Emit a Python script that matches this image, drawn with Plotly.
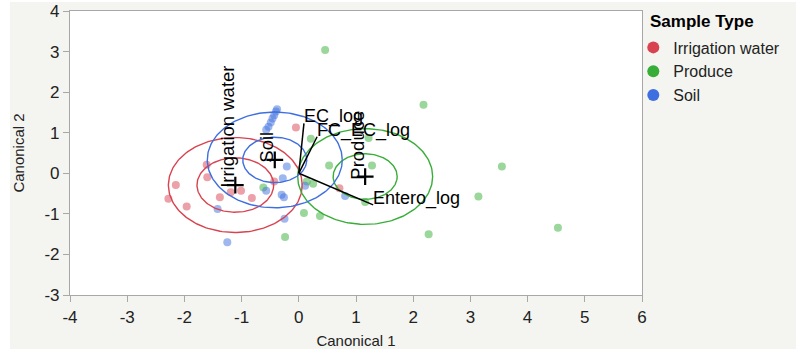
import numpy as np
import plotly.graph_objects as go

# ---- data ----
groups = ["Irrigation water", "Produce", "Soil"]
irr_x = [-0.05, -2.15, -2.28, -1.96, -1.60, -1.61, -1.38, -1.19, -1.01, -0.82, -0.43, 0.71]
irr_y = [1.13, -0.29, -0.63, -0.82, -0.10, 0.21, -0.59, -0.47, -0.43, -0.61, -0.20, -0.37]
prod_x = [0.46, 0.21, 0.53, 1.22, 1.28, 0.14, 0.25, 0.09, 0.37, -0.24, -0.62, 2.18, 3.55, 3.14, 2.27, 4.53, 1.16]
prod_y = [3.04, 0.85, 0.19, 0.87, 0.19, -0.20, -0.26, -0.98, -1.05, -1.57, -0.35, 1.69, 0.17, -0.57, -1.50, -1.34, -0.71]
soil_x = [-0.38, -0.40, -0.43, -0.46, -0.49, -0.53, -0.57, -0.21, -0.28, -0.57, -0.30, -0.26, -1.42, -0.25, -1.25, 0.11, 0.81]
soil_y = [1.58, 1.52, 1.43, 1.35, 1.25, 1.15, 1.07, 0.17, -0.12, -0.43, -0.53, -0.59, -0.88, -1.12, -1.70, -0.31, -0.56]

center_x = [-1.11, 1.16, -0.42]
center_y = [-0.29, -0.08, 0.33]
inner_r = [0.67, 0.56, 0.56]
outer_r = [1.17, 1.18, 1.18]

ray_names = ["EC_log", "FC_EC_log", "Entero_log"]
ray_x = [0.09, 0.32, 1.30]
ray_y = [1.23, 0.90, -0.78]

x_ticks = [-4, -3, -2, -1, 0, 1, 2, 3, 4, 5, 6]
x_labels = ["-4", "-3", "-2", "-1", "0", "1", "2", "3", "4", "5", "6"]
y_ticks = [-3, -2, -1, 0, 1, 2, 3, 4]
y_labels = ["-3", "-2", "-1", "0", "1", "2", "3", "4"]
legend_title = "Sample Type"

# ---- styles ----
line_colors = ["#d8434f", "#38ad38", "#3e6fe0"]
point_colors = ["rgba(216,67,79,0.5)", "rgba(56,173,56,0.5)", "rgba(62,111,224,0.5)"]
FONT = "Liberation Sans, Arial, sans-serif"
BG = "#f4f4f0"
PW, PH = 571.7, 284.3

fig = go.Figure()
pts = [(irr_x, irr_y), (prod_x, prod_y), (soil_x, soil_y)]
for i, (px, py) in enumerate(pts):
    fig.add_trace(go.Scatter(x=px, y=py, mode="markers", showlegend=False,
                             marker=dict(size=8, color=point_colors[i]), hoverinfo="skip"))

t = np.linspace(0, 2 * np.pi, 200)
for i in range(3):
    for r in (inner_r[i], outer_r[i]):
        fig.add_trace(go.Scatter(x=center_x[i] + r * np.cos(t), y=center_y[i] + r * np.sin(t),
                                 mode="lines", showlegend=False,
                                 line=dict(color=line_colors[i], width=1.4), hoverinfo="skip"))

for i in range(3):
    fig.add_trace(go.Scatter(x=[0, ray_x[i]], y=[0, ray_y[i]], mode="lines", showlegend=False,
                             line=dict(color="black", width=1.5), hoverinfo="skip"))

fig.add_trace(go.Scatter(x=center_x, y=center_y, mode="markers", showlegend=False,
                         marker=dict(symbol="cross-thin", size=12, line=dict(color="black", width=2.2)),
                         hoverinfo="skip"))

for i in range(3):
    fig.add_trace(go.Scatter(x=[None], y=[None], mode="markers", name=groups[i],
                             marker=dict(size=12, color=line_colors[i])))

annotations = []
for i in range(3):
    annotations.append(dict(x=ray_x[i], y=ray_y[i], xref="x", yref="y", text=ray_names[i],
                            showarrow=False, xanchor="left", yanchor="bottom",
                            font=dict(family=FONT, size=18, color="black"), xshift=-2, yshift=-6))
for i in range(3):
    annotations.append(dict(x=center_x[i], y=center_y[i], xref="x", yref="y", text=groups[i],
                            showarrow=False, textangle=-90, xanchor="right", yanchor="bottom",
                            font=dict(family=FONT, size=18.5, color="black"), xshift=4, yshift=-5))
annotations.append(dict(x=(648 - 70) / PW, y=1 - (22 - 11) / PH, xref="paper", yref="paper",
                        text="<b>" + legend_title + "</b>", showarrow=False,
                        xanchor="left", yanchor="middle",
                        font=dict(family=FONT, size=17, color="black")))

fig.update_layout(
    width=796, height=349,
    margin=dict(l=70, r=154, t=11, b=54, autoexpand=False),
    paper_bgcolor=BG, plot_bgcolor="white",
    font=dict(family=FONT, color="#222222"),
    annotations=annotations,
    showlegend=True,
    legend=dict(x=(633 - 70) / PW, xanchor="left", y=1 - (30.5 - 11) / PH, yanchor="top",
                font=dict(size=16, color="#222222"), itemsizing="constant",
                bgcolor="rgba(0,0,0,0)", tracegroupgap=0),
    shapes=[
        dict(type="rect", xref="paper", yref="paper", x0=-70 / PW, x1=-60 / PW,
             y0=-54 / PH, y1=1 + 11 / PH, fillcolor="white", line=dict(width=0), layer="below"),
        dict(type="rect", xref="paper", yref="paper", x0=-70 / PW, x1=1 + 154 / PW,
             y0=1 + 9 / PH, y1=1 + 11 / PH, fillcolor="white", line=dict(width=0), layer="below"),
    ],
)
fig.update_xaxes(range=[-4, 6], tickvals=x_ticks, ticktext=x_labels, showgrid=False, zeroline=False,
                 showline=True, linecolor="#a8a8a8", linewidth=1.2, mirror=True,
                 ticks="outside", ticklen=6, tickcolor="#a8a8a8",
                 tickfont=dict(size=17, color="#222222"),
                 title=dict(text="Canonical 1", font=dict(size=15, color="#222222"), standoff=9))
fig.update_yaxes(range=[-3, 4], tickvals=y_ticks, ticktext=y_labels, showgrid=False, zeroline=False,
                 showline=True, linecolor="#a8a8a8", linewidth=1.2, mirror=True,
                 ticks="outside", ticklen=6, tickcolor="#a8a8a8",
                 tickfont=dict(size=17, color="#222222"),
                 title=dict(text="Canonical 2", font=dict(size=15, color="#222222"), standoff=16))

fig.write_html("out.html")
